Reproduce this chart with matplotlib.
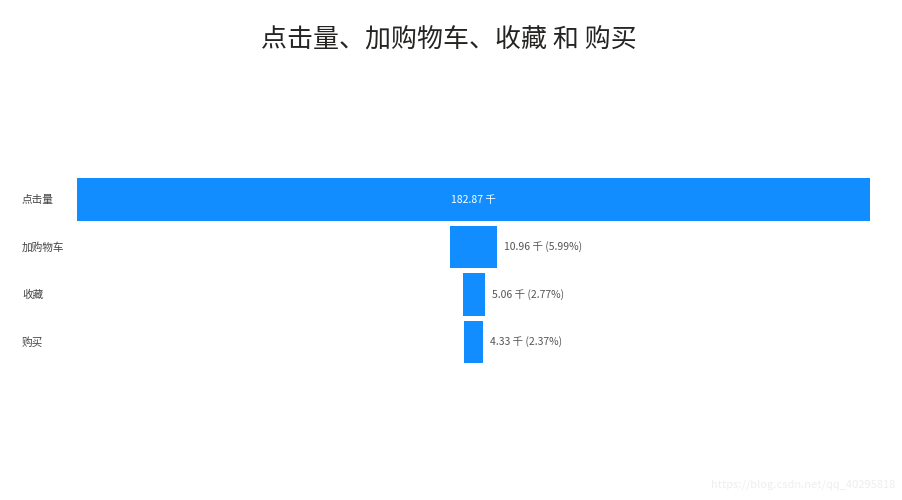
import matplotlib.pyplot as plt
from matplotlib.transforms import blended_transform_factory

plt.rcParams['font.family'] = ['Noto Sans CJK SC', 'DejaVu Sans']

# 数据
stages = ['点击量', '加购物车', '收藏', '购买']
values = [182870, 10960, 5060, 4330]
value_labels = ['182.87 千', '10.96 千', '5.06 千', '4.33 千']
pct_labels = ['', '(5.99%)', '(2.77%)', '(2.37%)']

color = '#118DFF'

def main():
    fig = plt.figure(figsize=(9.03, 5.0), dpi=100)
    fig.patch.set_facecolor('white')

    ax = fig.add_axes([77.3 / 903, 1 - 365.75 / 500, 792.7 / 903, 190 / 500])
    top = values[0]
    ax.set_xlim(-top / 2, top / 2)
    ax.set_ylim(len(stages) - 0.5, -0.5)
    ax.axis('off')

    for i, v in enumerate(values):
        ax.barh(i, v, left=-v / 2, height=0.895, color=color)
        if i == 0:
            ax.text(0, i, value_labels[i], ha='center', va='center',
                    color='white', fontsize=7.5)
        else:
            ax.annotate(value_labels[i] + ' ' + pct_labels[i], (v / 2, i),
                        xytext=(5, 0), textcoords='offset points',
                        ha='left', va='center', color='#555555', fontsize=7.5)

    # 左侧类别标签
    tr = blended_transform_factory(fig.transFigure, ax.transData)
    for i, s in enumerate(stages):
        ax.text(22 / 903, i, s, transform=tr, ha='left', va='center',
                color='#444444', fontsize=7.7)

    fig.text(449 / 903, 1 - 40 / 500, '点击量、加购物车、收藏 和 购买',
             ha='center', va='center', fontsize=18.7, color='#252423')

    fig.text(895 / 903, 1 - 485 / 500, 'https://blog.csdn.net/qq_40295818',
             ha='right', va='center', fontsize=8, color='#eeeeee')

    fig.savefig('out.png', dpi=100, facecolor='white')

if __name__ == "__main__":
    main()
